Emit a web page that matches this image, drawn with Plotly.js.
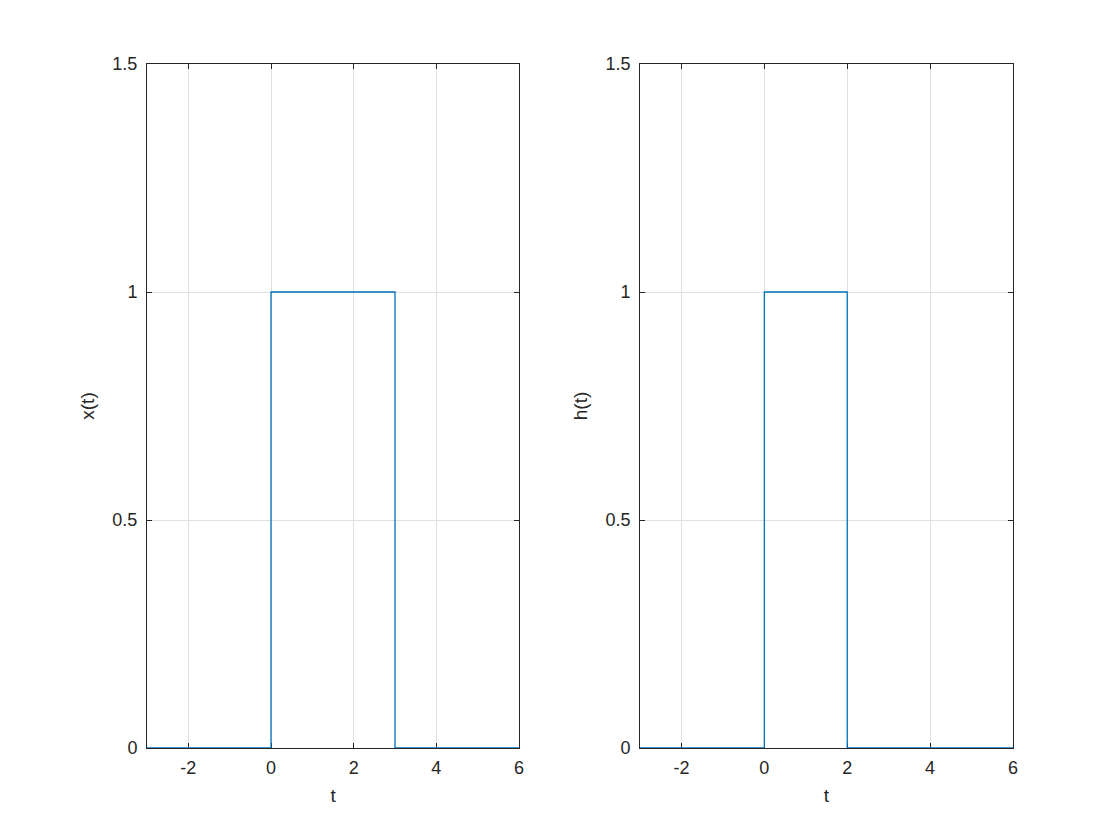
<!DOCTYPE html>
<html>
<head>
<meta charset="utf-8">
<script src="https://cdn.plot.ly/plotly-3.0.1.min.js"></script>
<style>html,body{margin:0;padding:0;background:#fff;}#chart{width:1120px;height:840px;}</style>
</head>
<body>
<div id="chart"></div>
<script>
// x(t): rectangular pulse, step breakpoints (held until next point)
var tX = [-3, 0, 3, 6];
var xVals = [0, 1, 0, 0];
// h(t): rectangular pulse
var tH = [-3, 0, 2, 6];
var hVals = [0, 1, 0, 0];

var xTicks = [-2, 0, 2, 4, 6];
var yTicks = [0, 0.5, 1, 1.5];
var yTickText = ['0', '0.5', '1', '1.5'];

var blue = '#0072BD';
var ink = '#262626';
var fam = 'Liberation Sans, Arial, sans-serif';
var tickFont = {family: fam, size: 18, color: ink};
var titleFont = {family: fam, size: 19, color: ink};

var traces = [
  {x: tX, y: xVals, type: 'scatter', mode: 'lines', line: {shape: 'hv', color: blue, width: 1.3}, cliponaxis: false, xaxis: 'x', yaxis: 'y', showlegend: false},
  {x: tH, y: hVals, type: 'scatter', mode: 'lines', line: {shape: 'hv', color: blue, width: 1.3}, cliponaxis: false, xaxis: 'x2', yaxis: 'y2', showlegend: false}
];

function xax(dom, anchor) {
  return {domain: dom, anchor: anchor, range: [-3, 6], tickvals: xTicks, ticktext: xTicks.map(String),
    showgrid: true, gridcolor: '#dfdfdf', gridwidth: 1, zeroline: false,
    showline: true, linecolor: ink, linewidth: 1, mirror: 'ticks',
    ticks: 'inside', ticklen: 5, tickcolor: ink, tickfont: tickFont, ticklabelstandoff: 3, layer: 'below traces',
    title: {text: 't', font: titleFont, standoff: 12}};
}
function yax(anchor, label) {
  return {domain: [0, 1], anchor: anchor, range: [0, 1.5], tickvals: yTicks, ticktext: yTickText,
    showgrid: true, gridcolor: '#dfdfdf', gridwidth: 1, zeroline: false,
    showline: true, linecolor: ink, linewidth: 1, mirror: 'ticks',
    ticks: 'inside', ticklen: 5, tickcolor: ink, tickfont: tickFont, ticklabelstandoff: 5, layer: 'below traces',
    title: {text: label, font: titleFont, standoff: 12}};
}

var layout = {
  width: 1120, height: 840,
  paper_bgcolor: '#ffffff', plot_bgcolor: '#ffffff',
  margin: {l: 147, r: 107, t: 64, b: 92},
  font: tickFont,
  showlegend: false,
  xaxis: xax([0, 0.4296], 'y'),
  yaxis: yax('x', 'x(t)'),
  xaxis2: xax([0.5693, 1], 'y2'),
  yaxis2: yax('x2', 'h(t)')
};

Plotly.newPlot('chart', traces, layout, {displayModeBar: false, staticPlot: true});
</script>
</body>
</html>
